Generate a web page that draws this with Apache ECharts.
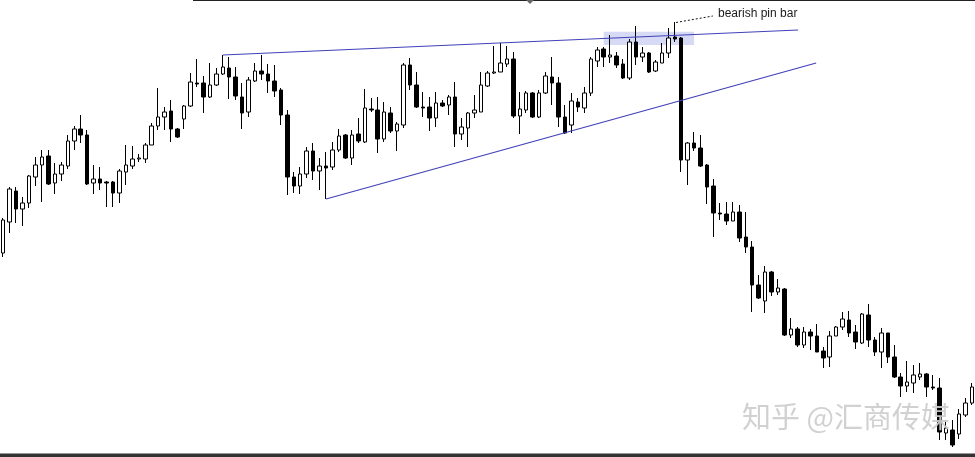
<!DOCTYPE html>
<html><head><meta charset="utf-8">
<script src="https://cdn.jsdelivr.net/npm/echarts@6/dist/echarts.min.js"></script>
<style>html,body{margin:0;padding:0;background:#fff;overflow:hidden}#c{width:975px;height:457px}</style>
</head><body><div id="c"></div>
<script>
// Candle values (arbitrary price units), bar -1 .. 149
const opens = [
 1247,
 1278,1309,1291,1297,1323,1335,1344,1317,1326,1334,
 1359,1371,1365,1317,1321,1318,1318,1307,1328,1334,
 1341,1341,1355,1374,1383,1389,1371,1381,1394,1417,
 1417,1403,1415,1426,1432,1423,1403,1388,1419,1429,
 1426,1419,1410,1385,1323,1314,1326,1349,1329,1334,
 1333,1350,1365,1342,1366,1358,1391,1390,1361,1387,
 1369,1375,1435,1415,1393,1393,1382,1397,1395,1403,
 1366,1372,1387,1388,1414,1427,1428,1436,1441,1384,
 1390,1407,1383,1407,1423,1417,1383,1375,1398,1392,
 1407,1439,1451,1443,1444,1436,1422,1458,1443,1447,
 1429,1437,1447,1463,1462,1340,1357,1352,1335,1314,
 1287,1286,1279,1288,1263,1253,1215,1199,1228,1208,
 1211,1165,1171,1155,1168,1164,1149,1143,1164,1173,
 1180,1168,1157,1185,1160,1148,1167,1143,1123,1114,
 1117,1123,1126,1113,1112,1067,1070,1066,1085,1097
];
const closes = [
 1280,
 1311,1291,1297,1324,1335,1343,1316,1326,1335,1359,
 1371,1365,1316,1321,1317,1317,1307,1329,1335,1341,
 1342,1355,1374,1383,1388,1371,1363,1394,1418,1416,
 1403,1415,1426,1433,1423,1404,1387,1420,1429,1426,
 1419,1409,1385,1323,1314,1326,1349,1329,1334,1332,
 1350,1364,1342,1365,1359,1392,1390,1361,1388,1369,
 1376,1435,1415,1393,1392,1382,1397,1394,1403,1366,
 1373,1387,1390,1415,1427,1428,1437,1441,1384,1391,
 1407,1383,1407,1424,1417,1383,1367,1399,1393,1407,
 1441,1450,1443,1445,1435,1422,1458,1443,1447,1428,
 1438,1447,1462,1461,1340,1357,1352,1334,1313,1287,
 1286,1279,1288,1262,1253,1215,1202,1228,1208,1212,
 1165,1171,1155,1168,1164,1148,1142,1164,1173,1181,
 1167,1158,1186,1160,1148,1167,1143,1123,1114,1118,
 1125,1126,1113,1112,1068,1072,1055,1086,1097,1113
];
const lows = [
 1243,
 1267,1277,1274,1292,1314,1298,1315,1306,1319,1331,
 1350,1357,1315,1306,1310,1293,1293,1297,1315,1331,
 1338,1337,1355,1370,1370,1358,1362,1371,1393,1413,
 1387,1402,1414,1425,1401,1400,1371,1383,1418,1420,
 1407,1403,1375,1305,1307,1306,1322,1320,1310,1301,
 1330,1348,1341,1335,1357,1357,1388,1347,1358,1367,
 1349,1372,1410,1392,1383,1369,1373,1393,1385,1353,
 1360,1353,1382,1388,1413,1426,1428,1433,1382,1366,
 1387,1382,1382,1406,1395,1373,1366,1367,1388,1387,
 1404,1433,1433,1437,1432,1421,1420,1435,1438,1427,
 1428,1437,1442,1458,1328,1315,1349,1333,1296,1263,
 1280,1275,1279,1258,1247,1188,1201,1187,1204,1205,
 1164,1162,1153,1152,1150,1148,1132,1133,1164,1170,
 1163,1151,1156,1153,1144,1132,1137,1122,1103,1108,
 1107,1120,1103,1110,1060,1060,1053,1061,1083,1095
];
const highs = [
 1282,
 1313,1313,1303,1325,1343,1350,1350,1337,1338,1365,
 1374,1385,1370,1335,1333,1319,1319,1331,1355,1354,
 1346,1357,1377,1412,1393,1400,1372,1395,1427,1441,
 1424,1437,1432,1445,1443,1433,1417,1423,1437,1445,
 1436,1435,1412,1390,1328,1333,1353,1357,1342,1348,
 1358,1371,1366,1370,1382,1411,1402,1403,1398,1393,
 1378,1437,1442,1428,1408,1403,1408,1400,1405,1418,
 1382,1388,1405,1428,1429,1454,1457,1454,1448,1408,
 1409,1408,1410,1428,1443,1423,1395,1407,1402,1413,
 1443,1453,1453,1465,1448,1441,1461,1474,1453,1448,
 1440,1457,1472,1478,1463,1358,1368,1365,1336,1321,
 1297,1298,1298,1295,1288,1259,1225,1234,1229,1221,
 1212,1182,1173,1173,1171,1176,1153,1169,1174,1188,
 1189,1175,1187,1196,1163,1172,1167,1155,1127,1139,
 1135,1137,1127,1125,1122,1080,1080,1091,1102,1117
];
const categories = opens.map((_, i) => 'Bar ' + i);

// Drawn overlays in data space (bar index, price)
const upperTrend = [[34, 1445], [123.1, 1470]];
const lowerTrend = [[50, 1301], [125.9, 1437]];
const pinZone = [[93, 1468.3], [107, 1455]];
const pinNote = [[104.2, 1477.5], [109.9, 1484]];
const noteText = 'bearish pin bar';
const watermark = '知乎 @汇商传媒';

const candleData = opens.map((o, i) => [o, closes[i], lows[i], highs[i]]);

const chart = echarts.init(document.getElementById('c'), null, {renderer: 'canvas'});
chart.setOption({
  animation: false,
  backgroundColor: '#ffffff',
  grid: {left: -3.75, right: -2.75, top: 0, bottom: 0, containLabel: false},
  xAxis: [
    {type: 'category', data: categories, boundaryGap: true, show: false},
    {type: 'value', min: -0.5, max: 150.5, show: false}
  ],
  yAxis: {type: 'value', min: 1043, max: 1500, show: false, splitLine: {show: false}},
  series: [
    {
      type: 'line', xAxisIndex: 1, data: [], z: 1, silent: true,
      markArea: {silent: true, itemStyle: {color: 'rgba(200,206,242,0.75)'},
        data: [[{coord: pinZone[0]}, {coord: pinZone[1]}]]}
    },
    {
      type: 'candlestick', xAxisIndex: 0, data: candleData, barWidth: 4, z: 3,
      itemStyle: {color: '#ffffff', color0: '#000000', borderColor: '#000000', borderColor0: '#000000', borderWidth: 1}
    },
    {
      type: 'line', xAxisIndex: 1, data: upperTrend, symbol: 'none', z: 4,
      lineStyle: {color: '#4040b8', width: 1.2}
    },
    {
      type: 'line', xAxisIndex: 1, data: lowerTrend, symbol: 'none', z: 4,
      lineStyle: {color: '#4040b8', width: 1.2}
    },
    {
      type: 'line', xAxisIndex: 1, data: pinNote, symbol: 'none', z: 4,
      lineStyle: {color: '#111111', width: 1, type: [2, 2]}
    }
  ],
  graphic: [
    {type: 'text', left: 718, top: 8, style: {text: noteText, fill: '#1a1a1a', font: '12px "Liberation Sans", Arial, sans-serif'}},
    {type: 'text', left: 742, top: 402, z: 10, style: {text: watermark, fill: 'rgba(205,205,205,0.92)', font: '29px "Noto Sans CJK SC", sans-serif', textShadowColor: 'rgba(150,150,150,0.55)', textShadowBlur: 0, textShadowOffsetX: 1, textShadowOffsetY: 1}},
    {type: 'line', shape: {x1: 193, y1: 0.5, x2: 975, y2: 0.5}, style: {stroke: '#222', lineWidth: 1}},
    {type: 'polygon', shape: {points: [[526, 0], [534, 0], [530, 4]]}, style: {fill: '#666'}},
    {type: 'rect', shape: {x: 0, y: 453.5, width: 975, height: 3.5}, style: {fill: '#333'}}
  ]
});
</script>
</body></html>
